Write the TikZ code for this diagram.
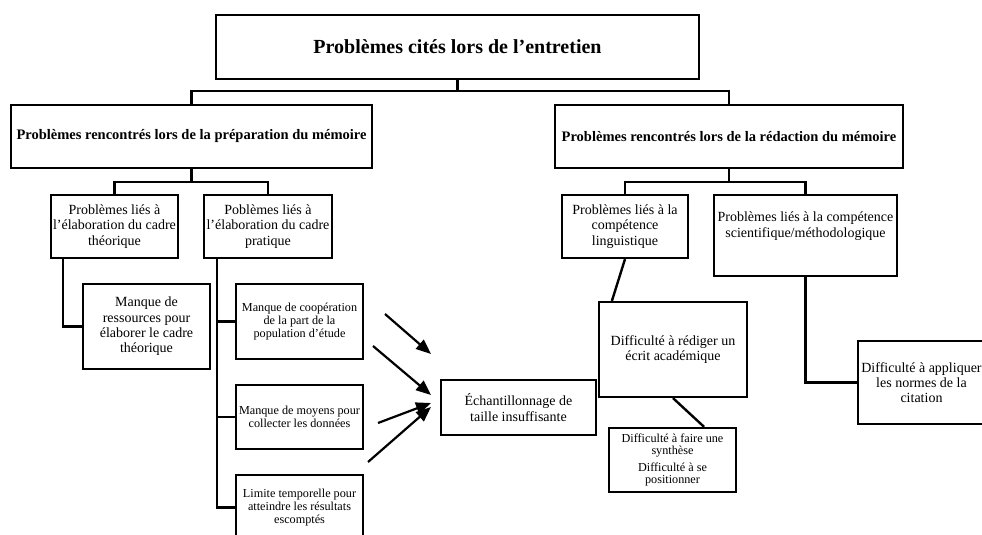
\documentclass[tikz,border=0pt]{standalone}
\usepackage{fontspec}
\setmainfont{Liberation Serif}
\usetikzlibrary{arrows.meta,calc}
\begin{document}
\begin{tikzpicture}[x=1pt,y=-1pt,
  box/.style={draw, line width=2.2pt, inner sep=0pt, align=center},
  conn/.style={line width=2.4pt},
  arr/.style={line width=2.2pt, -{Triangle[length=15pt,width=12pt]}},
  ftitle/.style={font=\fontsize{20}{22}\selectfont\bfseries},
  flev/.style={font=\fontsize{14.5}{17}\selectfont\bfseries},
  fmid/.style={font=\fontsize{14}{15.3}\selectfont},
  fsmall/.style={font=\fontsize{12.2}{12.6}\selectfont}]
\useasboundingbox (0,0) rectangle (982,535);
\clip (0,0) rectangle (982,535);

\node[box, ftitle, minimum width=483, minimum height=64] (title) at (457.5,47) {Problèmes cités lors de l’entretien};

\node[box, flev, minimum width=361, minimum height=63] (prep) at (191.5,136.5) {Problèmes rencontrés lors de la préparation du mémoire};
\node[box, flev, minimum width=348, minimum height=63] (redac) at (729,136.5) {Problèmes rencontrés lors de la rédaction du mémoire};

\node[box, fmid, minimum width=127, minimum height=63] (theo) at (114.5,226.5) {Problèmes liés à\\l’élaboration du cadre\\théorique};
\node[box, fmid, minimum width=128, minimum height=63] (prat) at (268,226.5) {Poblèmes liés à\\l’élaboration du cadre\\pratique};

\node[box, fmid, minimum width=127, minimum height=85] (res) at (146.5,326.5) {Manque de\\ressources pour\\élaborer le cadre\\théorique};

\node[box, fsmall, minimum width=127, minimum height=75] (coop) at (299.5,321.5) {Manque de coopération\\de la part de la\\population d’étude};
\node[box, fsmall, minimum width=127, minimum height=64] (moy) at (299.5,417) {Manque de moyens pour\\collecter les données};
\node[box, fsmall, minimum width=127, minimum height=65] (lim) at (299.5,507.5) {Limite temporelle pour\\atteindre les résultats\\escomptés};

\node[box, fmid, minimum width=155, minimum height=55] (ech) at (518.5,407.5) {Échantillonnage de\\taille insuffisante};

\node[box, fmid, minimum width=126, minimum height=63] (ling) at (625,226.5) {Problèmes liés à la\\compétence\\linguistique};
\node[box, minimum width=183, minimum height=81] (sci) at (805.5,235.5) {};
\node[fmid, align=center, inner sep=0pt] (scit) at (805.5,226) {Problèmes liés à la compétence\\scientifique/méthodologique};

\node[box, fmid, minimum width=148, minimum height=95] (red) at (673,349.5) {Difficulté à rédiger un\\écrit académique};
\node[box, fsmall, minimum width=127, minimum height=64] (syn) at (672.5,460) {Difficulté à faire une\\synthèse\\[4pt]Difficulté à se\\positionner};
\node[box, fmid, minimum width=127, minimum height=83] (app) at (921.5,382.5) {Difficulté à appliquer\\les normes de la\\citation};

% connectors
\draw[conn] (title.south) -- ++(0,11) coordinate (j0);
\draw[conn] (prep.north) |- (j0) -| (redac.north);
\draw[conn] (prep.south) -- ++(0,13) coordinate (j1);
\draw[conn] (theo.north) |- (j1) -| (prat.north);
\draw[conn] (redac.south) -- ++(0,13) coordinate (j2);
\draw[conn] (ling.north) |- (j2) -| (sci.north);

\draw[conn] ([xshift=13pt]theo.south west) |- (res.west);
\draw[conn] ([xshift=14pt]prat.south west) |- (lim.west);
\draw[conn] ([xshift=14pt]prat.south west) |- (coop.west);
\draw[conn] ([xshift=14pt]prat.south west) |- (moy.west);

\draw[conn] (ling.south) -- ([xshift=14pt]red.north west);
\draw[conn] (red.south) -- ([xshift=-33pt]syn.north east);
\draw[conn] (sci.south) |- (app.west);

% arrows
\coordinate (a1s) at (385,314); \coordinate (a1e) at (431,354);
\coordinate (a2s) at (373,346); \coordinate (a2e) at (431,395);
\coordinate (a3s) at (378,423); \coordinate (a3e) at (431,403);
\coordinate (a4s) at (368,462); \coordinate (a4e) at (431,407);
\draw[arr] (a1s) -- (a1e);
\draw[arr] (a2s) -- (a2e);
\draw[arr] (a3s) -- (a3e);
\draw[arr] (a4s) -- (a4e);
\end{tikzpicture}
\end{document}
